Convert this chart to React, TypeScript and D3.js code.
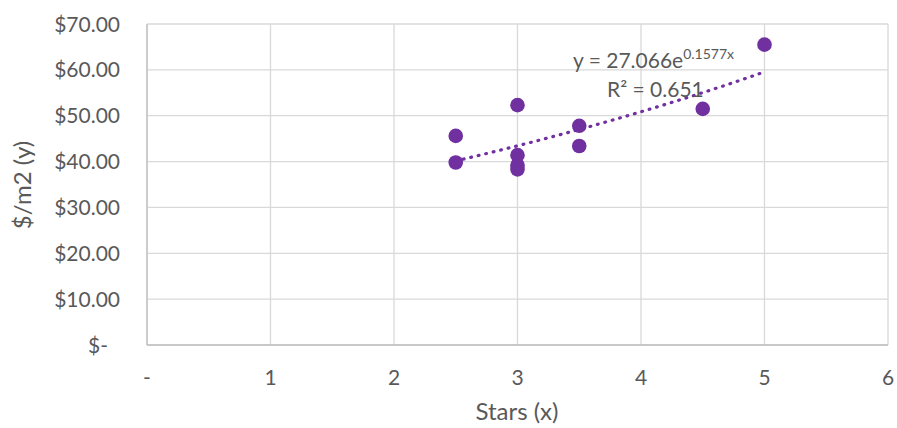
import React from "react";
import * as d3 from "d3";

const xValues = [2.5, 2.5, 3, 3, 3, 3, 3.5, 3.5, 4.5, 5];
const yValues = [45.6, 39.8, 52.3, 41.4, 39.2, 38.3, 47.8, 43.4, 51.5, 65.5];
const xTicks = [0, 1, 2, 3, 4, 5, 6];
const yTicks = [0, 10, 20, 30, 40, 50, 60, 70];
const trendA = 27.066;
const trendB = 0.1577;
const trendRange = [2.5, 5];

const W = 897, H = 428;
const M = { left: 147, right: 888, top: 24, bottom: 345 };
const FONT = "Lato, 'Open Sans', sans-serif";
const TXT = "#595959";
const PURPLE = "#7030A0";

export default function App() {
  const x = d3.scaleLinear().domain([0, 6]).range([M.left, M.right]);
  const y = d3.scaleLinear().domain([0, 70]).range([M.bottom, M.top]);
  const fmtY = (v: number) => (v === 0 ? "$-" : "$" + d3.format(",.2f")(v));
  const fmtX = (v: number) => (v === 0 ? "-" : String(v));
  const trendPts = d3.range(trendRange[0], trendRange[1] + 0.0001, 0.05).map((t) => [t, trendA * Math.exp(trendB * t)] as [number, number]);
  const line = d3.line<[number, number]>().x((d) => x(d[0])).y((d) => y(d[1]));
  return (
    <svg width={W} height={H} style={{ position: "absolute", left: 0, top: 0, background: "#fff" }}>
      <rect x={0} y={0} width={W} height={H} fill="#fff" />
      {yTicks.map((t) => (
        <line key={"gy" + t} x1={M.left} x2={M.right} y1={y(t)} y2={y(t)} stroke="#d9d9d9" strokeWidth={1.3} />
      ))}
      {xTicks.map((t) => (
        <line key={"gx" + t} x1={x(t)} x2={x(t)} y1={M.top} y2={M.bottom} stroke="#d9d9d9" strokeWidth={1.3} />
      ))}
      <line x1={M.left} x2={M.right} y1={y(0)} y2={y(0)} stroke="#bfbfbf" strokeWidth={1.3} />
      <line x1={x(0)} x2={x(0)} y1={M.top} y2={M.bottom} stroke="#bfbfbf" strokeWidth={1.3} />
      {yTicks.map((t) => (
        <text key={"ty" + t} x={t === 0 ? 108 : 120} y={y(t)} dy="0.36em" textAnchor="end" fill={TXT} fontFamily={FONT} fontSize={21}>
          {fmtY(t)}
        </text>
      ))}
      {xTicks.map((t) => (
        <text key={"tx" + t} x={x(t)} y={385} textAnchor="middle" fill={TXT} fontFamily={FONT} fontSize={21}>
          {fmtX(t)}
        </text>
      ))}
      <text x={517} y={420} textAnchor="middle" fill={TXT} fontFamily={FONT} fontSize={24}>Stars (x)</text>
      <text transform={`translate(31,185) rotate(-90)`} textAnchor="middle" fill={TXT} fontFamily={FONT} fontSize={24}>$/m2 (y)</text>
      <path d={line(trendPts) || ""} fill="none" stroke={PURPLE} strokeWidth={3.2} strokeDasharray="0.8 6.9" strokeLinecap="round" />
      {xValues.map((xv, i) => (
        <circle key={"p" + i} cx={x(xv)} cy={y(yValues[i])} r={7.3} fill={PURPLE} />
      ))}
      <text x={573} y={68} fill={TXT} fontFamily={FONT} fontSize={21}>
        y = 27.066e<tspan dy={-9} fontSize={14}>0.1577x</tspan>
      </text>
      <text x={607} y={97} fill={TXT} fontFamily={FONT} fontSize={21}>R² = 0.651</text>
    </svg>
  );
}
